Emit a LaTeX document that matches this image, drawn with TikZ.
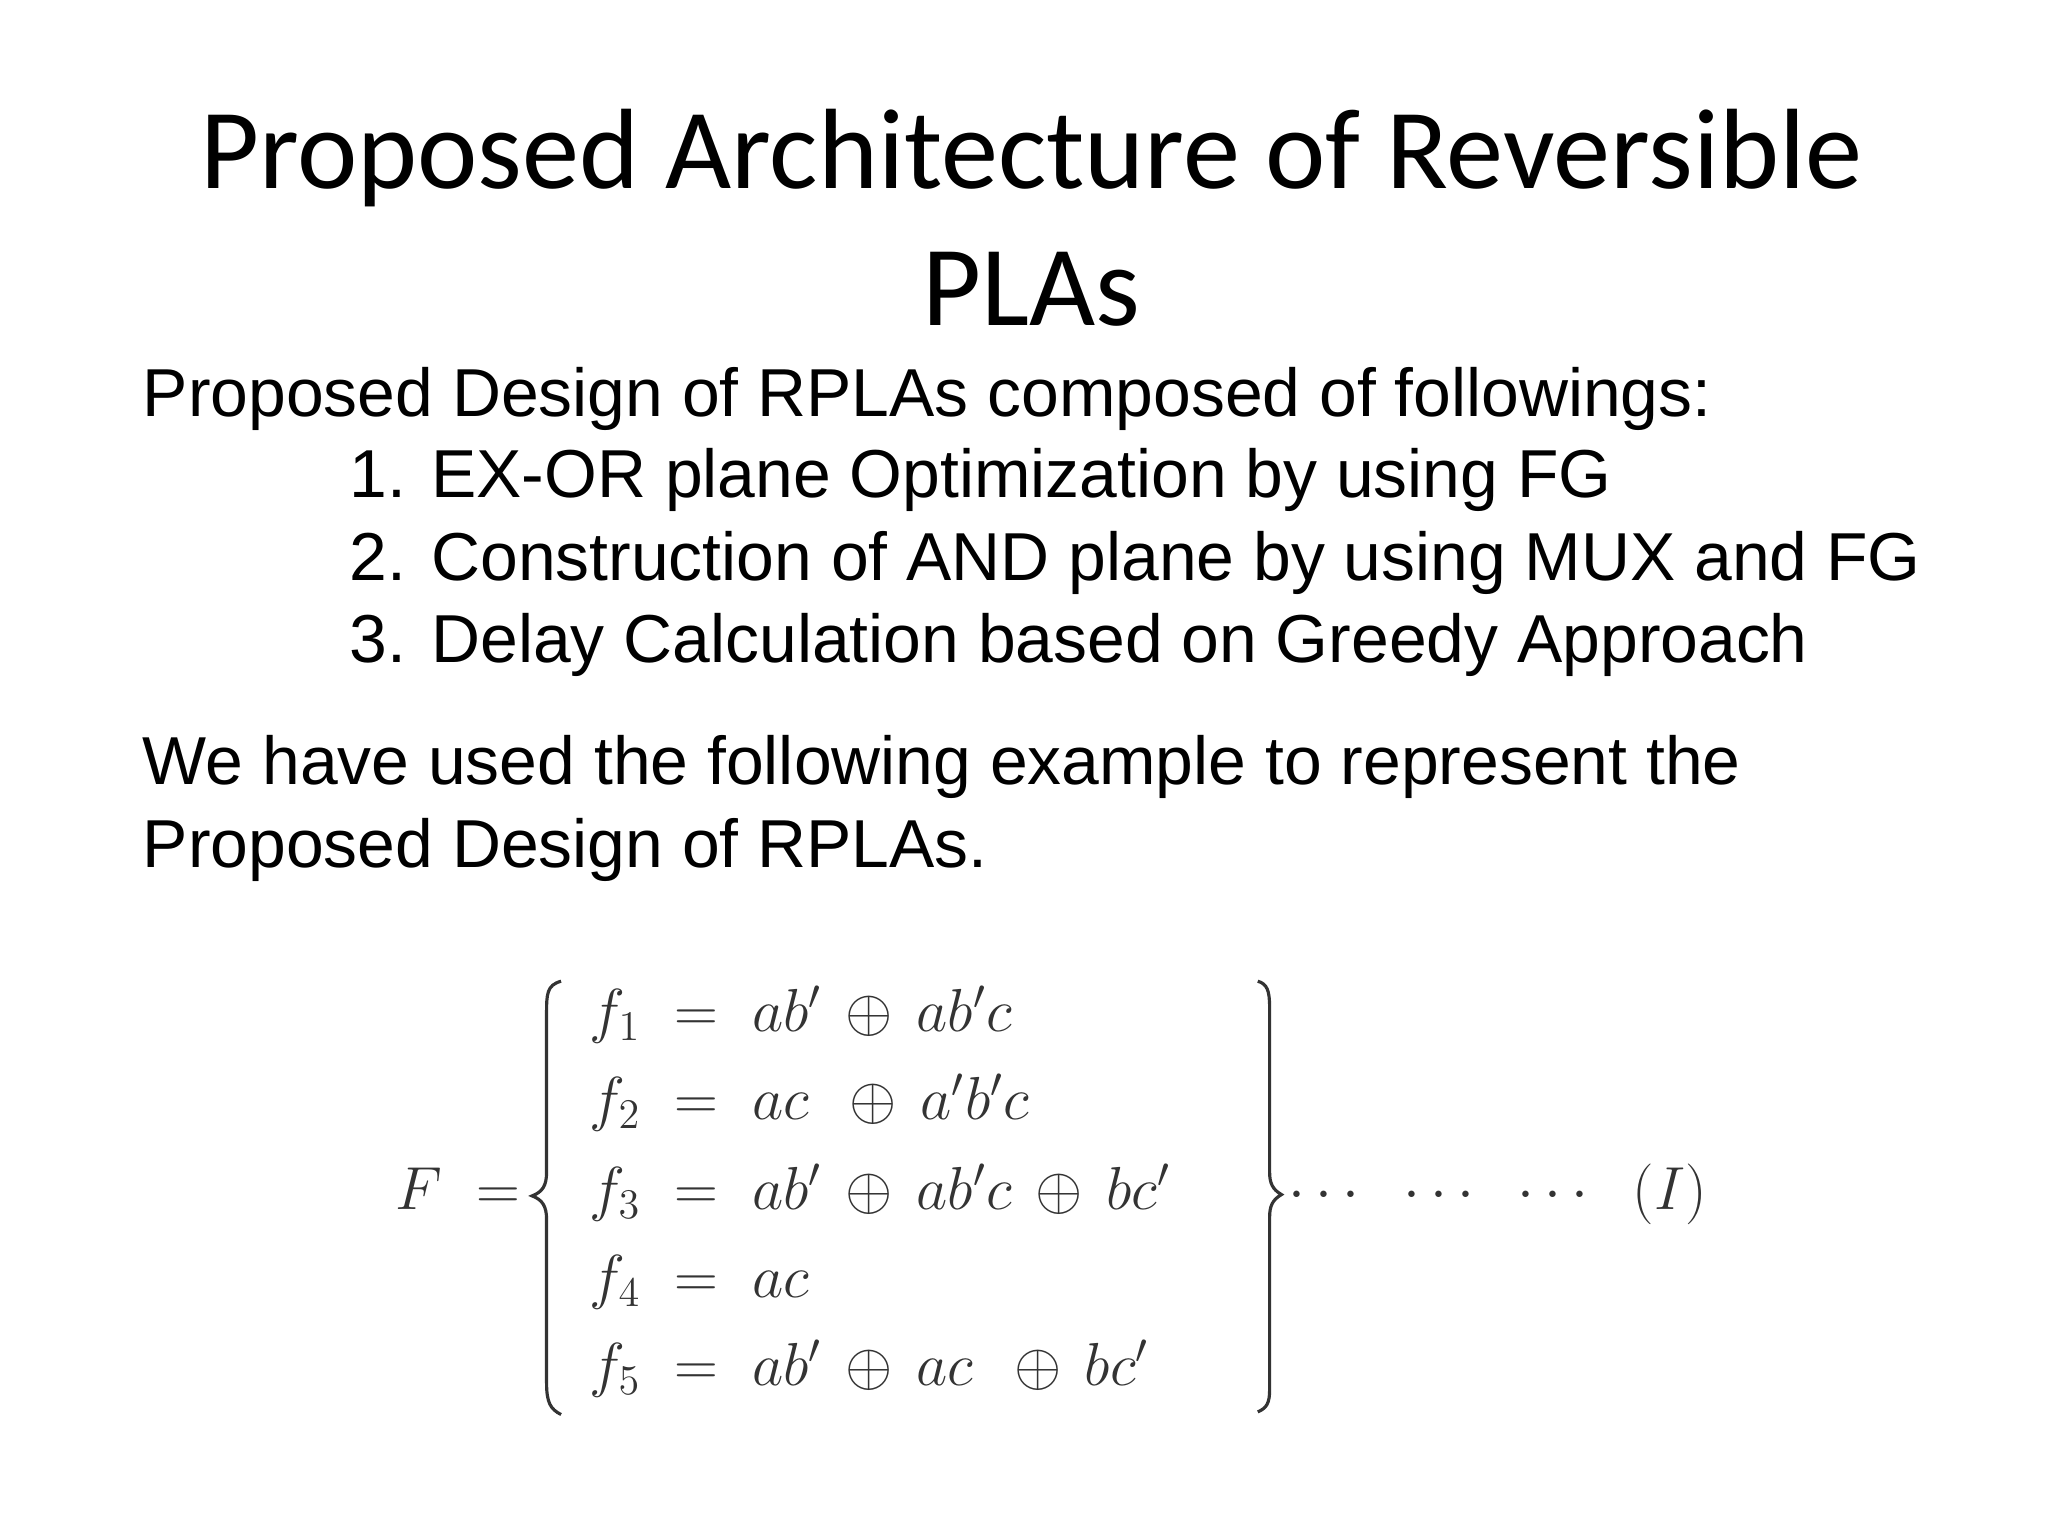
\documentclass[tikz,border=0pt]{standalone}
\usepackage{fontspec}
\setmainfont{Liberation Sans}
\newfontfamily\titlefont{Carlito}
\begin{document}
\begin{tikzpicture}[x=0.01317cm,y=-0.01317cm,
  title/.style={font=\titlefont\fontsize{32.5}{38}\selectfont,anchor=base},
  body/.style={font=\fontsize{19.3}{22}\selectfont,anchor=base west,inner sep=0},
  eq/.style={font=\fontsize{17}{20}\selectfont,anchor=base west,inner sep=0,text=black!80},
  br/.style={draw=black!80,line width=0.9pt}]
\useasboundingbox (0,0) rectangle (1555,1166);
\node[title] (t1) at (783,143) {Proposed Architecture of Reversible};
\node[title] (t2) at (783,247) {PLAs};
\node[body] (b1) at (108,316) {Proposed Design of RPLAs composed of followings:};
\node[body] (b2) at (265,378) {1. EX-OR plane Optimization by using FG};
\node[body] (b3) at (265,441) {2. Construction of AND plane by using MUX and FG};
\node[body] (b4) at (265,503) {3. Delay Calculation based on Greedy Approach};
\node[body] (b5) at (108,596) {We have used the following example to represent the};
\node[body] (b6) at (108,659) {Proposed Design of RPLAs.};
\node[eq] (F) at (300,918) {$F\;=$};
\node[eq] (e1) at (447,783) {$f_1\;=\;ab'\,\oplus\, ab'c$};
\node[eq] (e2) at (447,850) {$f_2\;=\;ac\;\,\oplus\, a'b'c$};
\node[eq] (e3) at (447,918) {$f_3\;=\;ab'\,\oplus\, ab'c\,\oplus\, bc'$};
\node[eq] (e4) at (447,985) {$f_4\;=\;ac$};
\node[eq] (e5) at (447,1052) {$f_5\;=\;ab'\,\oplus\, ac\;\,\oplus\, bc'$};
\node[eq] (dots) at (978,918) {$\cdots\;\;\cdots\;\;\cdots\;\;(I)$};
\draw[br] (426,745) .. controls (415,748) and (415,755) .. (415,770) -- (415,890)
  .. controls (415,900) and (412,905) .. (404,908)
  .. controls (412,911) and (415,916) .. (415,926) -- (415,1050)
  .. controls (415,1065) and (418,1070) .. (426,1074);
\draw[br] (955,745) .. controls (962,747) and (964,752) .. (964,765) -- (964,890)
  .. controls (964,898) and (966,903) .. (973,907)
  .. controls (966,911) and (964,916) .. (964,924) -- (964,1055)
  .. controls (964,1065) and (962,1069) .. (955,1072);
\end{tikzpicture}
\end{document}
